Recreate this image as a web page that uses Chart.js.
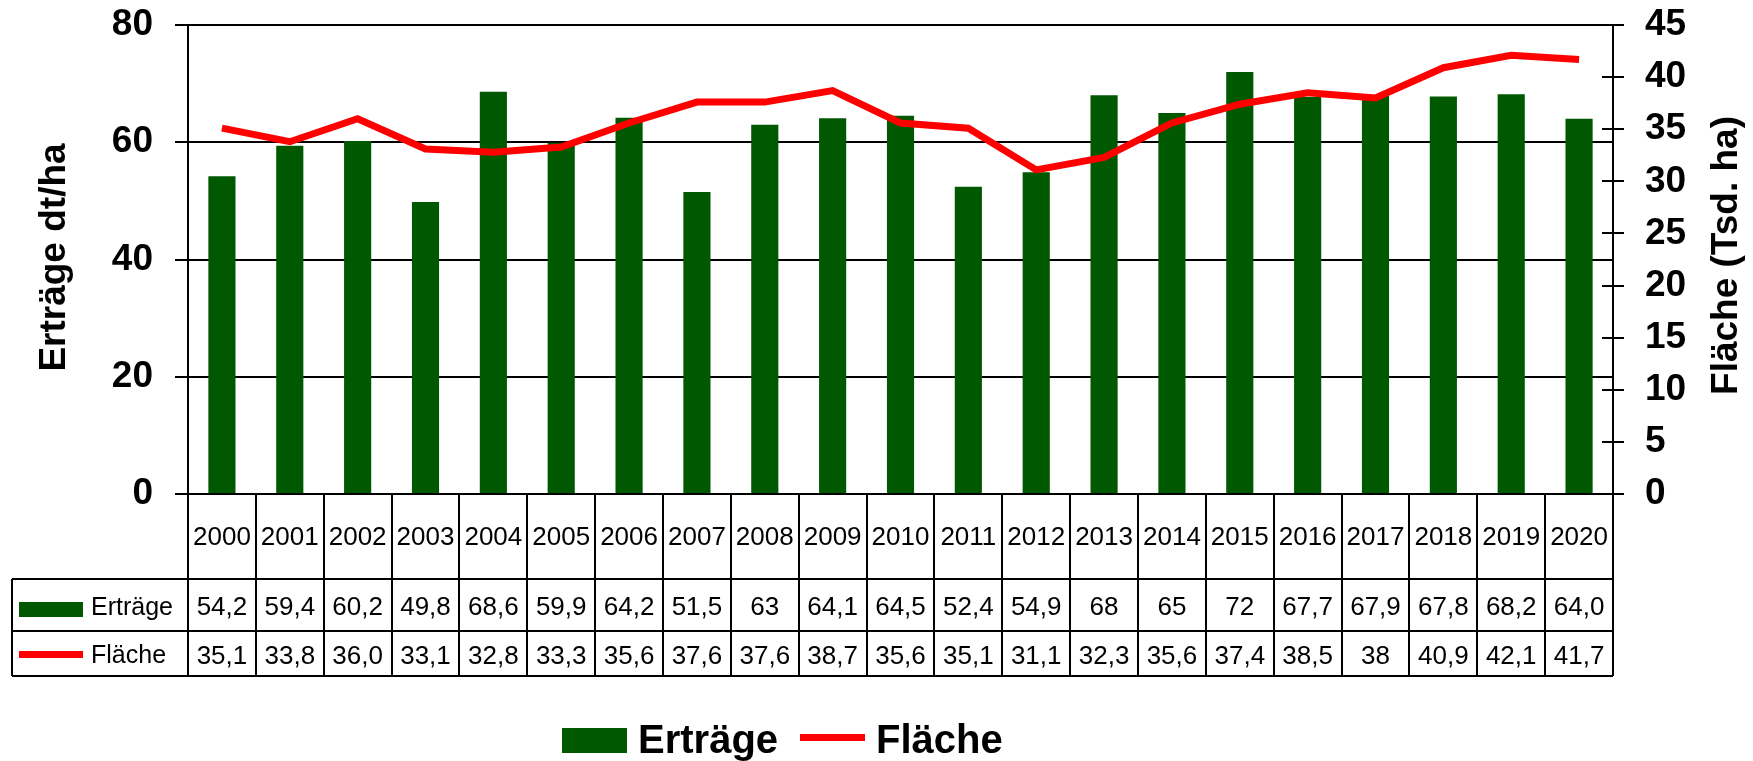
<!DOCTYPE html>
<html>
<head>
<meta charset="utf-8">
<script src="https://cdn.jsdelivr.net/npm/chart.js@4"></script>
<style>
  body { margin: 0; background: #fff; }
  #wrap { width: 1753px; height: 761px; position: relative; }
</style>
</head>
<body>
<div id="wrap"><canvas id="myChart"></canvas></div>
<script>
const years = ["2000", "2001", "2002", "2003", "2004", "2005", "2006", "2007", "2008", "2009", "2010",
  "2011", "2012", "2013", "2014", "2015", "2016", "2017", "2018", "2019", "2020"];
const ertraege = [54.2, 59.4, 60.2, 49.8, 68.6, 59.9, 64.2, 51.5, 63, 64.1, 64.5,
  52.4, 54.9, 68, 65, 72, 67.7, 67.9, 67.8, 68.2, 64.0];
const flaeche = [35.1, 33.8, 36.0, 33.1, 32.8, 33.3, 35.6, 37.6, 37.6, 38.7, 35.6,
  35.1, 31.1, 32.3, 35.6, 37.4, 38.5, 38, 40.9, 42.1, 41.7];
// labels as printed in the data table
const ertraegeText = ["54,2", "59,4", "60,2", "49,8", "68,6", "59,9", "64,2", "51,5", "63", "64,1", "64,5",
  "52,4", "54,9", "68", "65", "72", "67,7", "67,9", "67,8", "68,2", "64,0"];
const flaecheText = ["35,1", "33,8", "36,0", "33,1", "32,8", "33,3", "35,6", "37,6", "37,6", "38,7", "35,6",
  "35,1", "31,1", "32,3", "35,6", "37,4", "38,5", "38", "40,9", "42,1", "41,7"];

const FONT = "'Liberation Sans', Arial, sans-serif";
const GREEN = "#005800";
const RED = "#ff0000";

const tablePlugin = {
  id: "dataTable",
  afterDraw(chart) {
    const { ctx, chartArea: a, scales } = chart;
    const colW = a.width / years.length;
    const r1 = a.bottom + 85, r2 = a.bottom + 137, r3 = a.bottom + 182;
    ctx.save();

    // inward ticks of the right axis
    ctx.strokeStyle = "#000";
    ctx.lineWidth = 2;
    scales.y1.ticks.forEach((t, i) => {
      const py = Math.round(scales.y1.getPixelForTick(i));
      ctx.beginPath();
      ctx.moveTo(a.right - 11, py);
      ctx.lineTo(a.right, py);
      ctx.stroke();
    });

    // axis titles
    ctx.fillStyle = "#000";
    ctx.font = "bold 37px " + FONT;
    ctx.textAlign = "center";
    ctx.textBaseline = "alphabetic";
    const cy = (a.top + a.bottom) / 2;
    ctx.save();
    ctx.translate(65, cy - 2);
    ctx.rotate(-Math.PI / 2);
    ctx.fillText("Erträge dt/ha", 0, 0);
    ctx.restore();
    ctx.save();
    ctx.translate(1737, cy - 4);
    ctx.rotate(-Math.PI / 2);
    ctx.fillText("Fläche (Tsd. ha)", 0, 0);
    ctx.restore();

    // table grid
    ctx.beginPath();
    [r1, r2, r3].forEach(ry => { ctx.moveTo(12, ry); ctx.lineTo(a.right, ry); });
    ctx.moveTo(12, r1); ctx.lineTo(12, r3);
    for (let i = 0; i <= years.length; i++) {
      const bx = Math.round(a.left + i * colW);
      ctx.moveTo(bx, a.bottom); ctx.lineTo(bx, r3);
    }
    ctx.stroke();

    // table text
    ctx.font = "26px " + FONT;
    ctx.textBaseline = "middle";
    ctx.textAlign = "center";
    years.forEach((yr, i) => {
      const cx = scales.x.getPixelForValue(i);
      ctx.fillText(yr, cx, (a.bottom + r1) / 2 + 1);
      ctx.fillText(ertraegeText[i], cx, (r1 + r2) / 2 + 3);
      ctx.fillText(flaecheText[i], cx, (r2 + r3) / 2 + 3);
    });
    ctx.textAlign = "left";
    ctx.font = "25px " + FONT;
    ctx.fillText("Erträge", 91, (r1 + r2) / 2 + 3);
    ctx.fillText("Fläche", 91, (r2 + r3) / 2 + 3);
    ctx.fillStyle = GREEN;
    ctx.fillRect(19, r1 + 23, 64, 15);
    ctx.fillStyle = RED;
    ctx.fillRect(19, r2 + 20, 64, 7);

    // bottom legend
    ctx.fillStyle = GREEN;
    ctx.fillRect(562, 728, 65, 25);
    ctx.fillStyle = RED;
    ctx.fillRect(800, 734, 65, 7);
    ctx.fillStyle = "#000";
    ctx.font = "bold 40px " + FONT;
    ctx.textBaseline = "alphabetic";
    ctx.fillText("Erträge", 638, 753);
    ctx.fillText("Fläche", 876, 753);
    ctx.restore();
  },
};

// keep chart area fixed: no extra room for half tick labels
function noLabelPadding(scale, w) {
  scale.width = w;
  scale.paddingTop = 0;
  scale.paddingBottom = 0;
}

const ctx = document.getElementById("myChart");

new Chart(ctx, {
  type: "bar",
  data: {
    labels: years,
    datasets: [
      {
        type: "bar",
        label: "Erträge",
        data: ertraege,
        yAxisID: "y",
        backgroundColor: GREEN,
        barPercentage: 0.4,
        categoryPercentage: 1.0,
        order: 2,
      },
      {
        type: "line",
        label: "Fläche",
        data: flaeche,
        yAxisID: "y1",
        borderColor: RED,
        backgroundColor: RED,
        borderWidth: 7,
        pointRadius: 0,
        tension: 0,
        order: 1,
      },
    ],
  },
  options: {
    responsive: true,
    maintainAspectRatio: false,
    animation: false,
    layout: { padding: { top: 25, bottom: 267, left: 0, right: 0 } },
    plugins: {
      legend: { display: false },
      tooltip: { enabled: false },
    },
    scales: {
      x: { display: false },
      y: {
        position: "left",
        min: 0,
        max: 80,
        ticks: {
          stepSize: 20,
          color: "#000",
          padding: 22,
          font: { family: FONT, size: 37, weight: "bold" },
        },
        grid: { color: "#000", lineWidth: 2, tickLength: 13 },
        border: { display: true, color: "#000", width: 2 },
        afterFit(scale) { noLabelPadding(scale, 188); },
      },
      y1: {
        position: "right",
        min: 0,
        max: 45,
        ticks: {
          stepSize: 5,
          color: "#000",
          padding: 21,
          font: { family: FONT, size: 37, weight: "bold" },
        },
        grid: { drawOnChartArea: false, color: "#000", lineWidth: 2, tickLength: 11 },
        border: { display: true, color: "#000", width: 2 },
        afterFit(scale) { noLabelPadding(scale, 140); },
      },
    },
  },
  plugins: [tablePlugin],
});
</script>
</body>
</html>
